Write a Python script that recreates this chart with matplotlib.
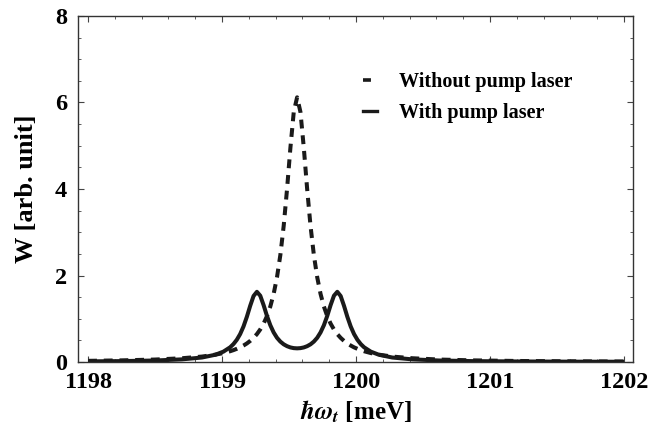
import matplotlib
matplotlib.use("Agg")
import matplotlib.pyplot as plt
from matplotlib.lines import Line2D
from matplotlib.ticker import MultipleLocator

plt.rcParams['font.family'] = ['Liberation Serif', 'DejaVu Serif']
plt.rcParams['font.weight'] = 'bold'
plt.rcParams['mathtext.fontset'] = 'stix'

# photon energy (meV)
energy = [1198.0, 1198.25, 1198.5, 1198.7, 1198.85, 1198.95, 1199.01,
          1199.06, 1199.085, 1199.11, 1199.135, 1199.16, 1199.185, 1199.21, 1199.235,
          1199.26, 1199.285, 1199.31, 1199.335, 1199.36, 1199.385, 1199.41, 1199.435,
          1199.46, 1199.485, 1199.51, 1199.535, 1199.56, 1199.585, 1199.61, 1199.635,
          1199.66, 1199.685, 1199.71, 1199.735, 1199.76, 1199.785, 1199.81, 1199.835,
          1199.86, 1199.885, 1199.91, 1199.935, 1199.96, 1199.985, 1200.01, 1200.035,
          1200.06,
          1200.11, 1200.17, 1200.27, 1200.42, 1200.62, 1200.87, 1201.2, 1201.6, 1202.0]

# W without pump laser (dashed)
w_without = [0.027, 0.038, 0.057, 0.087, 0.126, 0.170, 0.207,
             0.249, 0.275, 0.305, 0.339, 0.381, 0.429, 0.488, 0.559,
             0.645, 0.753, 0.888, 1.060, 1.283, 1.574, 1.961, 2.475,
             3.150, 4.000, 4.953, 5.780, 6.120, 5.780, 4.953, 4.000,
             3.150, 2.475, 1.961, 1.574, 1.283, 1.060, 0.888, 0.753,
             0.645, 0.559, 0.488, 0.429, 0.381, 0.339, 0.305, 0.275,
             0.249,
             0.207, 0.170, 0.126, 0.087, 0.057, 0.038, 0.024, 0.016, 0.011]

# W with pump laser (solid)
w_with = [0.015, 0.021, 0.035, 0.061, 0.104, 0.168, 0.240,
          0.340, 0.415, 0.514, 0.646, 0.822, 1.045, 1.300, 1.526,
          1.623, 1.533, 1.315, 1.066, 0.851, 0.684, 0.560, 0.472,
          0.409, 0.366, 0.337, 0.321, 0.316, 0.321, 0.337, 0.366,
          0.409, 0.472, 0.560, 0.684, 0.851, 1.066, 1.315, 1.533,
          1.623, 1.526, 1.300, 1.045, 0.822, 0.646, 0.514, 0.415,
          0.340,
          0.240, 0.168, 0.104, 0.061, 0.035, 0.021, 0.013, 0.008, 0.006]

x_ticks = [1198, 1199, 1200, 1201, 1202]
y_ticks = [0, 2, 4, 6, 8]
labels = ["Without pump laser", "With pump laser"]

fig = plt.figure(figsize=(6.48, 4.37), dpi=100)
ax = fig.add_axes([0.1204, 0.1716, 0.8565, 0.7918])

dash = (0, (2.2, 1.7))
ax.plot(energy, w_without, color='#1a1a1a', lw=2.9, linestyle=dash)
ax.plot(energy, w_with, color='#1a1a1a', lw=2.9, solid_capstyle='butt')

ax.set_xlim(1197.925, 1202.067)
ax.set_ylim(0, 8)
ax.set_xticks(x_ticks)
ax.set_yticks(y_ticks)
ax.xaxis.set_minor_locator(MultipleLocator(0.2))
ax.yaxis.set_minor_locator(MultipleLocator(0.5))
ax.tick_params(which='both', direction='in', top=True, right=True,
               labelsize=17.5, color='#444444')
ax.tick_params(which='major', length=4, width=0.8)
ax.tick_params(which='minor', length=2.5, width=0.6)
ax.tick_params(axis='x', which='major', pad=7)
ax.tick_params(axis='y', which='major', pad=8)
for lab in ax.get_xticklabels() + ax.get_yticklabels():
    lab.set_fontweight('bold')
for s in ax.spines.values():
    s.set_linewidth(1.0)
    s.set_color('#333333')

ax.set_xlabel(r"$\hbar\omega_t$ [meV]", fontsize=18, fontweight='bold', labelpad=4)
ax.set_ylabel("W [arb. unit]", fontsize=19, fontweight='bold', labelpad=12)

handles = [Line2D([], [], color='#1a1a1a', lw=2.6, linestyle=(0, (2.2, 20))),
           Line2D([], [], color='#1a1a1a', lw=2.4)]
leg = ax.legend(handles, labels, loc='upper left', bbox_to_anchor=(0.48, 0.89),
                frameon=False, handlelength=0.7, handletextpad=1.1,
                labelspacing=0.55, prop={'family': 'Liberation Serif',
                                         'weight': 'bold', 'size': 14.5})

fig.savefig("out.png", dpi=100)
